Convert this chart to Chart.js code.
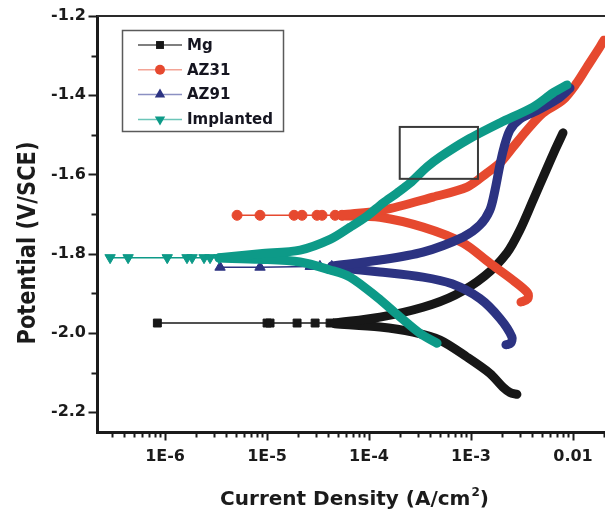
<!DOCTYPE html>
<html>
<head>
<meta charset="utf-8">
<script src="https://cdn.jsdelivr.net/npm/chart.js@4.4.1/dist/chart.umd.min.js"></script>
<style>
  html, body { margin: 0; padding: 0; background: #fff; }
  canvas { display: block; }
</style>
</head>
<body>
<canvas id="tafel" width="605" height="515"></canvas>
<script>
// Potentiodynamic polarization (Tafel) curves: [current density A/cm^2, potential V vs SCE]

// Mg
const mgNearEcorr = [[8.4e-7,-1.975],[1.0e-5,-1.975],[1.07e-5,-1.975],[1.97e-5,-1.975],[2.96e-5,-1.975],[4.15e-5,-1.975],[4.85e-5,-1.975]];
const mgAnodic = [[4.6e-5,-1.975],[1.28e-4,-1.960],[3.38e-4,-1.935],[7.0e-4,-1.904],[1.35e-3,-1.857],[2.25e-3,-1.798],[3.02e-3,-1.740],[4.06e-3,-1.665],[5.31e-3,-1.596],[6.67e-3,-1.538],[7.98e-3,-1.495]];
const mgCathodic = [[4.6e-5,-1.977],[1.28e-4,-1.985],[2.70e-4,-1.998],[4.97e-4,-2.018],[9.15e-4,-2.061],[1.53e-3,-2.102],[2.06e-3,-2.137],[2.41e-3,-2.150],[2.82e-3,-2.155]];

// AZ31
const az31NearEcorr = [[5.08e-6,-1.703],[8.53e-6,-1.703],[1.84e-5,-1.703],[2.20e-5,-1.703],[3.09e-5,-1.703],[3.46e-5,-1.703],[4.65e-5,-1.703],[5.43e-5,-1.703]];
const az31Anodic = [[5.43e-5,-1.702],[1.37e-4,-1.690],[4.24e-4,-1.657],[9.15e-4,-1.632],[1.44e-3,-1.596],[1.92e-3,-1.571],[2.58e-3,-1.531],[3.54e-3,-1.488],[5.08e-3,-1.445],[7.98e-3,-1.412],[1.09e-2,-1.369],[1.37e-2,-1.329],[1.84e-2,-1.278],[2.01e-2,-1.261]];
const az31Cathodic = [[5.43e-5,-1.704],[1.28e-4,-1.708],[3.38e-4,-1.733],[8.36e-4,-1.773],[1.53e-3,-1.824],[2.58e-3,-1.867],[3.60e-3,-1.899],[3.60e-3,-1.914],[3.09e-3,-1.922]];

// AZ91
const az91NearEcorr = [[3.46e-6,-1.834],[8.53e-6,-1.834],[2.65e-5,-1.832],[3.30e-5,-1.832],[4.31e-5,-1.832]];
const az91Anodic = [[4.3e-5,-1.831],[1.28e-4,-1.816],[3.38e-4,-1.796],[8.36e-4,-1.758],[1.22e-3,-1.728],[1.53e-3,-1.690],[1.72e-3,-1.639],[1.92e-3,-1.576],[2.11e-3,-1.531],[2.41e-3,-1.488],[3.02e-3,-1.460],[4.74e-3,-1.435],[7.47e-3,-1.405],[9.35e-3,-1.382]];
const az91Cathodic = [[4.3e-5,-1.834],[1.28e-4,-1.846],[3.38e-4,-1.859],[6.5e-4,-1.876],[1.22e-3,-1.913],[1.92e-3,-1.963],[2.52e-3,-2.010],[2.45e-3,-2.026],[2.20e-3,-2.030]];

// Implanted
const implNearEcorr = [[2.89e-7,-1.81],[4.34e-7,-1.81],[1.05e-6,-1.81],[1.64e-6,-1.81],[1.84e-6,-1.81],[2.41e-6,-1.81],[2.76e-6,-1.81],[3.38e-6,-1.81]];
const implAnodic = [[3.38e-6,-1.810],[8.53e-6,-1.800],[2.11e-5,-1.791],[4.15e-5,-1.764],[6.52e-5,-1.733],[9.55e-5,-1.705],[1.37e-4,-1.672],[1.88e-4,-1.647],[2.52e-4,-1.622],[3.71e-4,-1.581],[4.97e-4,-1.556],[9.15e-4,-1.513],[1.92e-3,-1.470],[4.06e-3,-1.430],[6.37e-3,-1.394],[8.73e-3,-1.374]];
const implCathodic = [[3.38e-6,-1.811],[8.53e-6,-1.814],[2.11e-5,-1.821],[4.15e-5,-1.841],[6.52e-5,-1.859],[1.20e-4,-1.910],[1.92e-4,-1.955],[3.16e-4,-2.001],[4.65e-4,-2.026]];

const seriesNames = ['Mg', 'AZ31', 'AZ91', 'Implanted'];

// Axis ranges and tick labels
const xRange = [2.15e-7, 2.06e-2];
const yRange = [-2.25, -1.2];
const xTickValues = [1e-6, 1e-5, 1e-4, 1e-3, 1e-2];
const xTickLabels = ['1E-6', '1E-5', '1E-4', '1E-3', '0.01'];
const yTickValues = [-2.2, -2.0, -1.8, -1.6, -1.4, -1.2];
const yTickLabels = ['-2.2', '-2.0', '-1.8', '-1.6', '-1.4', '-1.2'];

// Region of interest outlined on the plot: current range and potential range
const roiCurrent = [2.0e-4, 1.17e-3];
const roiPotential = [-1.611, -1.48];

// ---- styling ----
const FONT = 'DejaVu Sans';
const INK = '#1b1b1b';
const styles = [
  { color: '#171717', legendLine: '#555555', point: 'rect',     rotation: 0,   radius: 5.6 },
  { color: '#e6492f', legendLine: '#f3a496', point: 'circle',   rotation: 0,   radius: 5   },
  { color: '#2c3382', legendLine: '#8b90c2', point: 'triangle', rotation: 0,   radius: 6   },
  { color: '#0d9a88', legendLine: '#6cc5b9', point: 'triangle', rotation: 180, radius: 6   }
];
const seriesData = [
  [mgNearEcorr, mgAnodic, mgCathodic],
  [az31NearEcorr, az31Anodic, az31Cathodic],
  [az91NearEcorr, az91Anodic, az91Cathodic],
  [implNearEcorr, implAnodic, implCathodic]
];

const toPoints = arr => arr.map(([x, y]) => ({ x, y }));

const datasets = [];
seriesData.forEach((parts, s) => {
  const st = styles[s];
  const order = seriesData.length - s; // later series drawn on top
  const [near, anodic, cathodic] = parts;
  [anodic, cathodic].forEach((branch, b) => {
    datasets.push({
      label: seriesNames[s] + (b === 0 ? ' anodic' : ' cathodic'),
      data: toPoints(branch),
      showLine: true,
      borderColor: st.color,
      backgroundColor: st.color,
      borderWidth: 9,
      borderCapStyle: 'round',
      borderJoinStyle: 'round',
      tension: 0.3,
      pointRadius: 0,
      order
    });
  });
  datasets.push({
    label: seriesNames[s],
    data: toPoints(near),
    showLine: true,
    borderColor: st.color,
    backgroundColor: st.color,
    borderWidth: 1.5,
    tension: 0,
    pointStyle: st.point,
    rotation: st.rotation,
    pointRadius: st.radius,
    pointBorderWidth: 1,
    order
  });
});

// Minor tick marks, axis frame, outlined region, legend and axis titles
const decorations = {
  id: 'decorations',
  afterDatasetsDraw(chart) {
    const { ctx, chartArea: a, scales: { x, y } } = chart;
    ctx.save();
    // top frame line
    ctx.strokeStyle = '#2a2a2a';
    ctx.lineWidth = 2;
    ctx.beginPath();
    ctx.moveTo(a.left, a.top);
    ctx.lineTo(chart.width, a.top);
    ctx.stroke();
    // outlined region
    const x0 = x.getPixelForValue(roiCurrent[0]);
    const x1 = x.getPixelForValue(roiCurrent[1]);
    const y0 = y.getPixelForValue(roiPotential[1]);
    const y1 = y.getPixelForValue(roiPotential[0]);
    ctx.strokeStyle = '#3a3a3a';
    ctx.lineWidth = 2;
    ctx.strokeRect(x0, y0, x1 - x0, y1 - y0);
    ctx.restore();
  },
  afterDraw(chart) {
    const { ctx, chartArea: a, scales: { x, y } } = chart;
    ctx.save();
    ctx.strokeStyle = INK;
    ctx.lineWidth = 2;
    // x ticks (decades major, 2..9 minor)
    for (let k = -7; k <= -2; k++) {
      for (let m = 1; m <= 9; m++) {
        const v = m * Math.pow(10, k);
        if (v < xRange[0] || v > xRange[1]) continue;
        const px = Math.round(x.getPixelForValue(v)) + 0.5;
        const len = m === 1 ? 7 : 4;
        ctx.beginPath();
        ctx.moveTo(px, a.bottom);
        ctx.lineTo(px, a.bottom + 1.5 + len);
        ctx.stroke();
      }
    }
    // y ticks, major at labels, minor halfway between
    const yMinor = [];
    for (let i = 0; i < yTickValues.length - 1; i++) yMinor.push((yTickValues[i] + yTickValues[i + 1]) / 2);
    yTickValues.concat(yMinor).forEach((v, i) => {
      const py = Math.round(y.getPixelForValue(v)) + 0.5;
      const len = i < yTickValues.length ? 7 : 4;
      ctx.beginPath();
      ctx.moveTo(a.left, py);
      ctx.lineTo(a.left - 1.5 - len, py);
      ctx.stroke();
    });

    // legend
    const lx = a.left + 25, ly = a.top + 14, lw = 161, lh = 101;
    ctx.fillStyle = '#fff';
    ctx.fillRect(lx, ly, lw, lh);
    ctx.strokeStyle = '#5a5a5a';
    ctx.lineWidth = 1.5;
    ctx.strokeRect(lx + 0.5, ly + 0.5, lw, lh);
    ctx.font = 'bold 15px "' + FONT + '"';
    ctx.textBaseline = 'middle';
    ctx.textAlign = 'left';
    seriesNames.forEach((name, i) => {
      const st = styles[i];
      const ry = ly + 15 + i * 24.8;
      ctx.strokeStyle = st.legendLine;
      ctx.lineWidth = 1.5;
      ctx.beginPath();
      ctx.moveTo(lx + 16, ry);
      ctx.lineTo(lx + 60, ry);
      ctx.stroke();
      drawMarker(ctx, st, lx + 38, ry);
      ctx.fillStyle = '#151520';
      ctx.fillText(name, lx + 65, ry + 1);
    });

    // x title with superscript
    ctx.fillStyle = INK;
    ctx.textBaseline = 'alphabetic';
    const big = 'bold 20px "' + FONT + '"', small = 'bold 12px "' + FONT + '"';
    const p1 = 'Current Density (A/cm', sup = '2', p2 = ')';
    ctx.font = big; const w1 = ctx.measureText(p1).width, w3 = ctx.measureText(p2).width;
    ctx.font = small; const w2 = ctx.measureText(sup).width;
    let tx = (a.left + a.right) / 2 + 3 - (w1 + w2 + w3) / 2;
    const tb = 505;
    ctx.font = big; ctx.fillText(p1, tx, tb); tx += w1;
    ctx.font = small; ctx.fillText(sup, tx + 1, tb - 9); tx += w2 + 1;
    ctx.font = big; ctx.fillText(p2, tx, tb);

    // y title
    ctx.save();
    ctx.translate(35, 243);
    ctx.rotate(-Math.PI / 2);
    ctx.scale(1, 1.2);
    ctx.font = 'bold 21px "' + FONT + '"';
    ctx.textAlign = 'center';
    ctx.fillText('Potential (V/SCE)', 0, 0);
    ctx.restore();
    ctx.restore();
  }
};

function drawMarker(ctx, st, cx, cy) {
  ctx.fillStyle = st.color;
  ctx.beginPath();
  const r = st.radius;
  if (st.point === 'rect') {
    const h = r * Math.SQRT1_2;
    ctx.rect(cx - h, cy - h, 2 * h, 2 * h);
  } else if (st.point === 'circle') {
    ctx.arc(cx, cy, r, 0, Math.PI * 2);
  } else {
    const dir = st.rotation === 180 ? 1 : -1;
    ctx.moveTo(cx, cy + dir * r);
    ctx.lineTo(cx - r * 0.866, cy - dir * r / 2);
    ctx.lineTo(cx + r * 0.866, cy - dir * r / 2);
    ctx.closePath();
  }
  ctx.fill();
}

const tickFont = { family: FONT, size: 16, weight: 'bold' };

new Chart(document.getElementById('tafel'), {
  type: 'scatter',
  data: { datasets },
  options: {
    responsive: false,
    animation: false,
    events: [],
    layout: { autoPadding: false, padding: { top: 16, left: 0, right: 0, bottom: 0 } },
    plugins: { legend: { display: false }, tooltip: { enabled: false }, title: { display: false } },
    scales: {
      x: {
        type: 'logarithmic',
        position: 'bottom',
        min: xRange[0],
        max: xRange[1],
        bounds: 'data',
        grid: { display: false, drawTicks: true, tickLength: 7 },
        border: { display: true, color: INK, width: 3 },
        ticks: {
          autoSkip: false,
          maxRotation: 0,
          padding: 8,
          color: INK,
          font: tickFont,
          callback: (v) => {
            const k = xTickValues.findIndex(t => Math.abs(Math.log10(t) - Math.log10(v)) < 1e-6);
            return k >= 0 ? xTickLabels[k] : '';
          }
        },
        afterBuildTicks: (s) => { s.ticks = xTickValues.map(v => ({ value: v })); },
        afterFit: (s) => { s.height = 83; s.paddingLeft = 0; s.paddingRight = 0; }
      },
      y: {
        type: 'linear',
        position: 'left',
        min: yRange[0],
        max: yRange[1],
        bounds: 'data',
        grid: { display: false, drawTicks: true, tickLength: 7 },
        border: { display: true, color: INK, width: 3 },
        ticks: {
          padding: 4,
          color: INK,
          font: tickFont,
          callback: (v) => {
            const k = yTickValues.findIndex(t => Math.abs(t - v) < 1e-6);
            return k >= 0 ? yTickLabels[k] : '';
          }
        },
        afterBuildTicks: (s) => { s.ticks = yTickValues.map(v => ({ value: v })); },
        afterFit: (s) => { s.width = 97; s.paddingTop = 0; s.paddingBottom = 0; }
      }
    }
  },
  plugins: [decorations]
});
</script>
</body>
</html>
